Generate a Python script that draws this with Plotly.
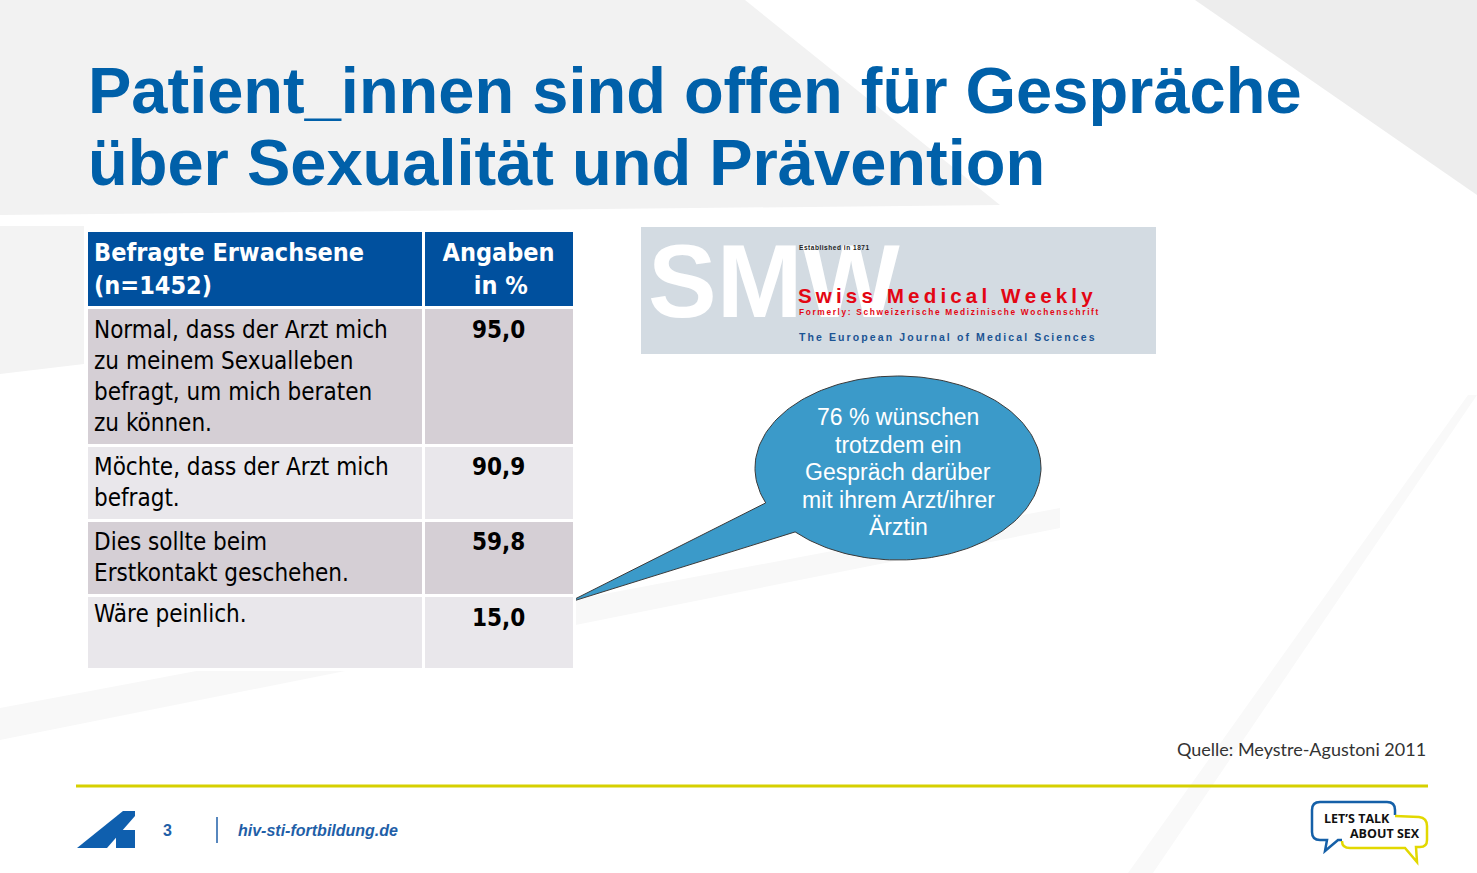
import numpy as np
import plotly.graph_objects as go

W, H = 1477, 873

# ---------------- data ----------------
title_lines = ["Patient_innen sind offen für Gespräche", "über Sexualität und Prävention"]
header_labels = ["Befragte Erwachsene<br>(n=1452)", "Angaben<br>\u00a0\u00a0\u00a0\u00a0in %"]
categories = [
    "Normal, dass der Arzt mich<br>zu meinem Sexualleben<br>befragt, um mich beraten<br>zu können.",
    "Möchte, dass der Arzt mich<br>befragt.",
    "Dies sollte beim<br>Erstkontakt geschehen.",
    "Wäre peinlich.",
]
values = [95.0, 90.9, 59.8, 15.0]
callout_lines = ["76 % wünschen", "trotzdem ein", "Gespräch darüber", "mit ihrem Arzt/ihrer", "Ärztin"]
source_text = "Quelle: Meystre-Agustoni 2011"
page_number = "3"
footer_url = "hiv-sti-fortbildung.de"
smw_texts = ["Established in 1871", "Swiss Medical Weekly",
             "Formerly: Schweizerische Medizinische Wochenschrift",
             "The European Journal of Medical Sciences"]

# ---------------- styles ----------------
BLUE_TITLE = "#0060a9"
HEADER_BLUE = "#00509e"
ROW_DARK = "#d5cfd5"
ROW_LIGHT = "#e9e7eb"
CALLOUT = "#3b9ac9"
TABLE_FONT = "Tahoma, 'DejaVu Sans Condensed', 'DejaVu Sans', sans-serif"
ARIAL = "Arial, 'Liberation Sans', sans-serif"


def spaced(s, ch="\u2009"):
    return ch.join(list(s))


fig = go.Figure()

# callout bubble (ellipse + tail)
cx, cy, rx, ry = 898, 468, 143, 92
a1, a2 = np.deg2rad(157.7), np.deg2rad(136)
tip = (567, 603)
ang = np.linspace(a2, a1 - 2 * np.pi, 200)
bx = [cx + rx * np.cos(a1), tip[0]] + list(cx + rx * np.cos(ang))
by = [cy + ry * np.sin(a1), tip[1]] + list(cy + ry * np.sin(ang))
fig.add_trace(go.Scatter(x=bx, y=by, mode="lines", fill="toself", fillcolor=CALLOUT,
                         line=dict(color="#3a3a3a", width=1), hoverinfo="skip", showlegend=False))

# table
value_labels = ["<b>" + f"{v:.1f}".replace(".", ",") + "</b>" for v in values]
row_colors = [ROW_DARK if i % 2 == 0 else ROW_LIGHT for i in range(len(categories))]
fig.add_trace(go.Table(
    domain=dict(x=[86 / W, 574 / W], y=[0.05, 1 - 230 / H]),
    columnwidth=[335, 150],
    header=dict(values=["<b>" + h + "</b>" for h in header_labels],
                fill_color=HEADER_BLUE, align=["left", "center"], height=73,
                font=dict(color="white", size=25, family=TABLE_FONT),
                line=dict(color="white", width=3)),
    cells=dict(values=[categories, value_labels],
               fill_color=[row_colors, row_colors], align=["left", "center"], height=74,
               font=dict(color="black", size=24, family=TABLE_FONT),
               line=dict(color="white", width=3)),
))

shapes = []
# background decoration
bg = [
    ("M0,0 L745,0 L1000,205 L0,215 Z", "#f2f2f2"),
    ("M0,226 L84,226 L84,364 L0,374 Z", "#f3f3f3"),
    ("M1195,0 L1477,0 L1477,195 Z", "#ededed"),
    ("M0,708 L1060,508 L1060,528 L0,740 Z", "#f8f8f8"),
    ("M1477,395 L1153,873 L1128,873 L1468,395 Z", "#f9f9f9"),
]
for p, c in bg:
    shapes.append(dict(type="path", path=p, xref="x", yref="y", fillcolor=c,
                       line=dict(width=0), layer="below"))

# SMW logo box
shapes.append(dict(type="rect", x0=641, y0=227, x1=1156, y1=354, xref="x", yref="y",
                   fillcolor="#d3dbe2", line=dict(width=0), layer="below"))
# footer line
shapes.append(dict(type="line", x0=76, x1=1428, y0=786, y1=786, xref="x", yref="y",
                   line=dict(color="#d6d000", width=3)))
# footer logo
shapes.append(dict(type="path", path="M77,848 L123,811 L135,811 L135,816 L107,848 Z",
                   xref="x", yref="y", fillcolor="#0f5fae", line=dict(width=0)))
shapes.append(dict(type="path", path="M121,830 L135,830 L135,848 L116,848 L116,835 Q116,830 121,830 Z",
                   xref="x", yref="y", fillcolor="#0f5fae", line=dict(width=0)))
# separator
shapes.append(dict(type="line", x0=217, x1=217, y0=817, y1=843, xref="x", yref="y",
                   line=dict(color="#1f5fa8", width=1.5)))
# let's talk logo bubbles
shapes.append(dict(type="path",
                   path="M1395,815 L1395,810 Q1395,802 1387,802 L1320,802 Q1312,802 1312,810 "
                        "L1312,832 Q1312,840 1320,840 L1327,840 L1325,851 L1338,840 L1342,840",
                   xref="x", yref="y", line=dict(color="#1560a8", width=2.5)))
shapes.append(dict(type="path",
                   path="M1395,816 L1419,817 Q1427,818 1427,826 L1427,840 Q1427,847 1420,847 L1416,847 "
                        "L1417,862 L1405,848 L1350,848 Q1342,848 1342,841",
                   xref="x", yref="y", line=dict(color="#e2d800", width=2.5)))

annotations = []


def ann(text, x, y, size, color, family=ARIAL, xanchor="left", yanchor="middle", **kw):
    annotations.append(dict(text=text, x=x, y=y, xref="x", yref="y", showarrow=False,
                            xanchor=xanchor, yanchor=yanchor,
                            font=dict(size=size, color=color, family=family), **kw))


# title
ann("<b>" + title_lines[0] + "</b>", 86, 90, 65, BLUE_TITLE)
ann("<b>" + title_lines[1] + "</b>", 86, 162, 65, BLUE_TITLE)

# SMW logo text
ann("<b>SMW</b>", 646, 281, 103, "white")
ann("<b>" + spaced(smw_texts[0], "\u200a") + "</b>", 797, 247, 6.5, "#222222")
ann("<b>" + spaced(smw_texts[1]) + "</b>", 796, 295, 20.6, "#e30613")
ann("<b>" + spaced(smw_texts[2]) + "</b>", 797, 312, 8.3, "#e30613")
ann("<b>" + spaced(smw_texts[3]) + "</b>", 797, 337, 10.5, "#1b5494")

# callout text
for i, line in enumerate(callout_lines):
    ann(line, cx, 417 + i * 27.5, 23, "white", xanchor="center")

# source
ann(source_text, 1428, 749, 18, "#333333", family="Lato, 'Open Sans', sans-serif", xanchor="right")

# footer
ann("<b>" + page_number + "</b>", 167, 830, 16, "#1f5fa8", xanchor="center")
ann("<b><i>" + footer_url + "</i></b>", 236, 830, 16, "#1f5fa8")
ann("<b>LET’S TALK</b>", 1322, 818, 12.5, "#111111", family="'Open Sans', 'DejaVu Sans Condensed', sans-serif")
ann("<b>ABOUT SEX</b>", 1348, 833, 12.5, "#111111", family="'Open Sans', 'DejaVu Sans Condensed', sans-serif")

fig.update_layout(
    width=W, height=H, margin=dict(l=0, r=0, t=0, b=0),
    paper_bgcolor="white", plot_bgcolor="white",
    xaxis=dict(range=[0, W], visible=False, fixedrange=True),
    yaxis=dict(range=[H, 0], visible=False, fixedrange=True),
    shapes=shapes, annotations=annotations, showlegend=False,
)

fig.write_html("out.html", config={"displayModeBar": False},
               post_script="document.body.style.margin='0';document.body.style.overflow='hidden';")
